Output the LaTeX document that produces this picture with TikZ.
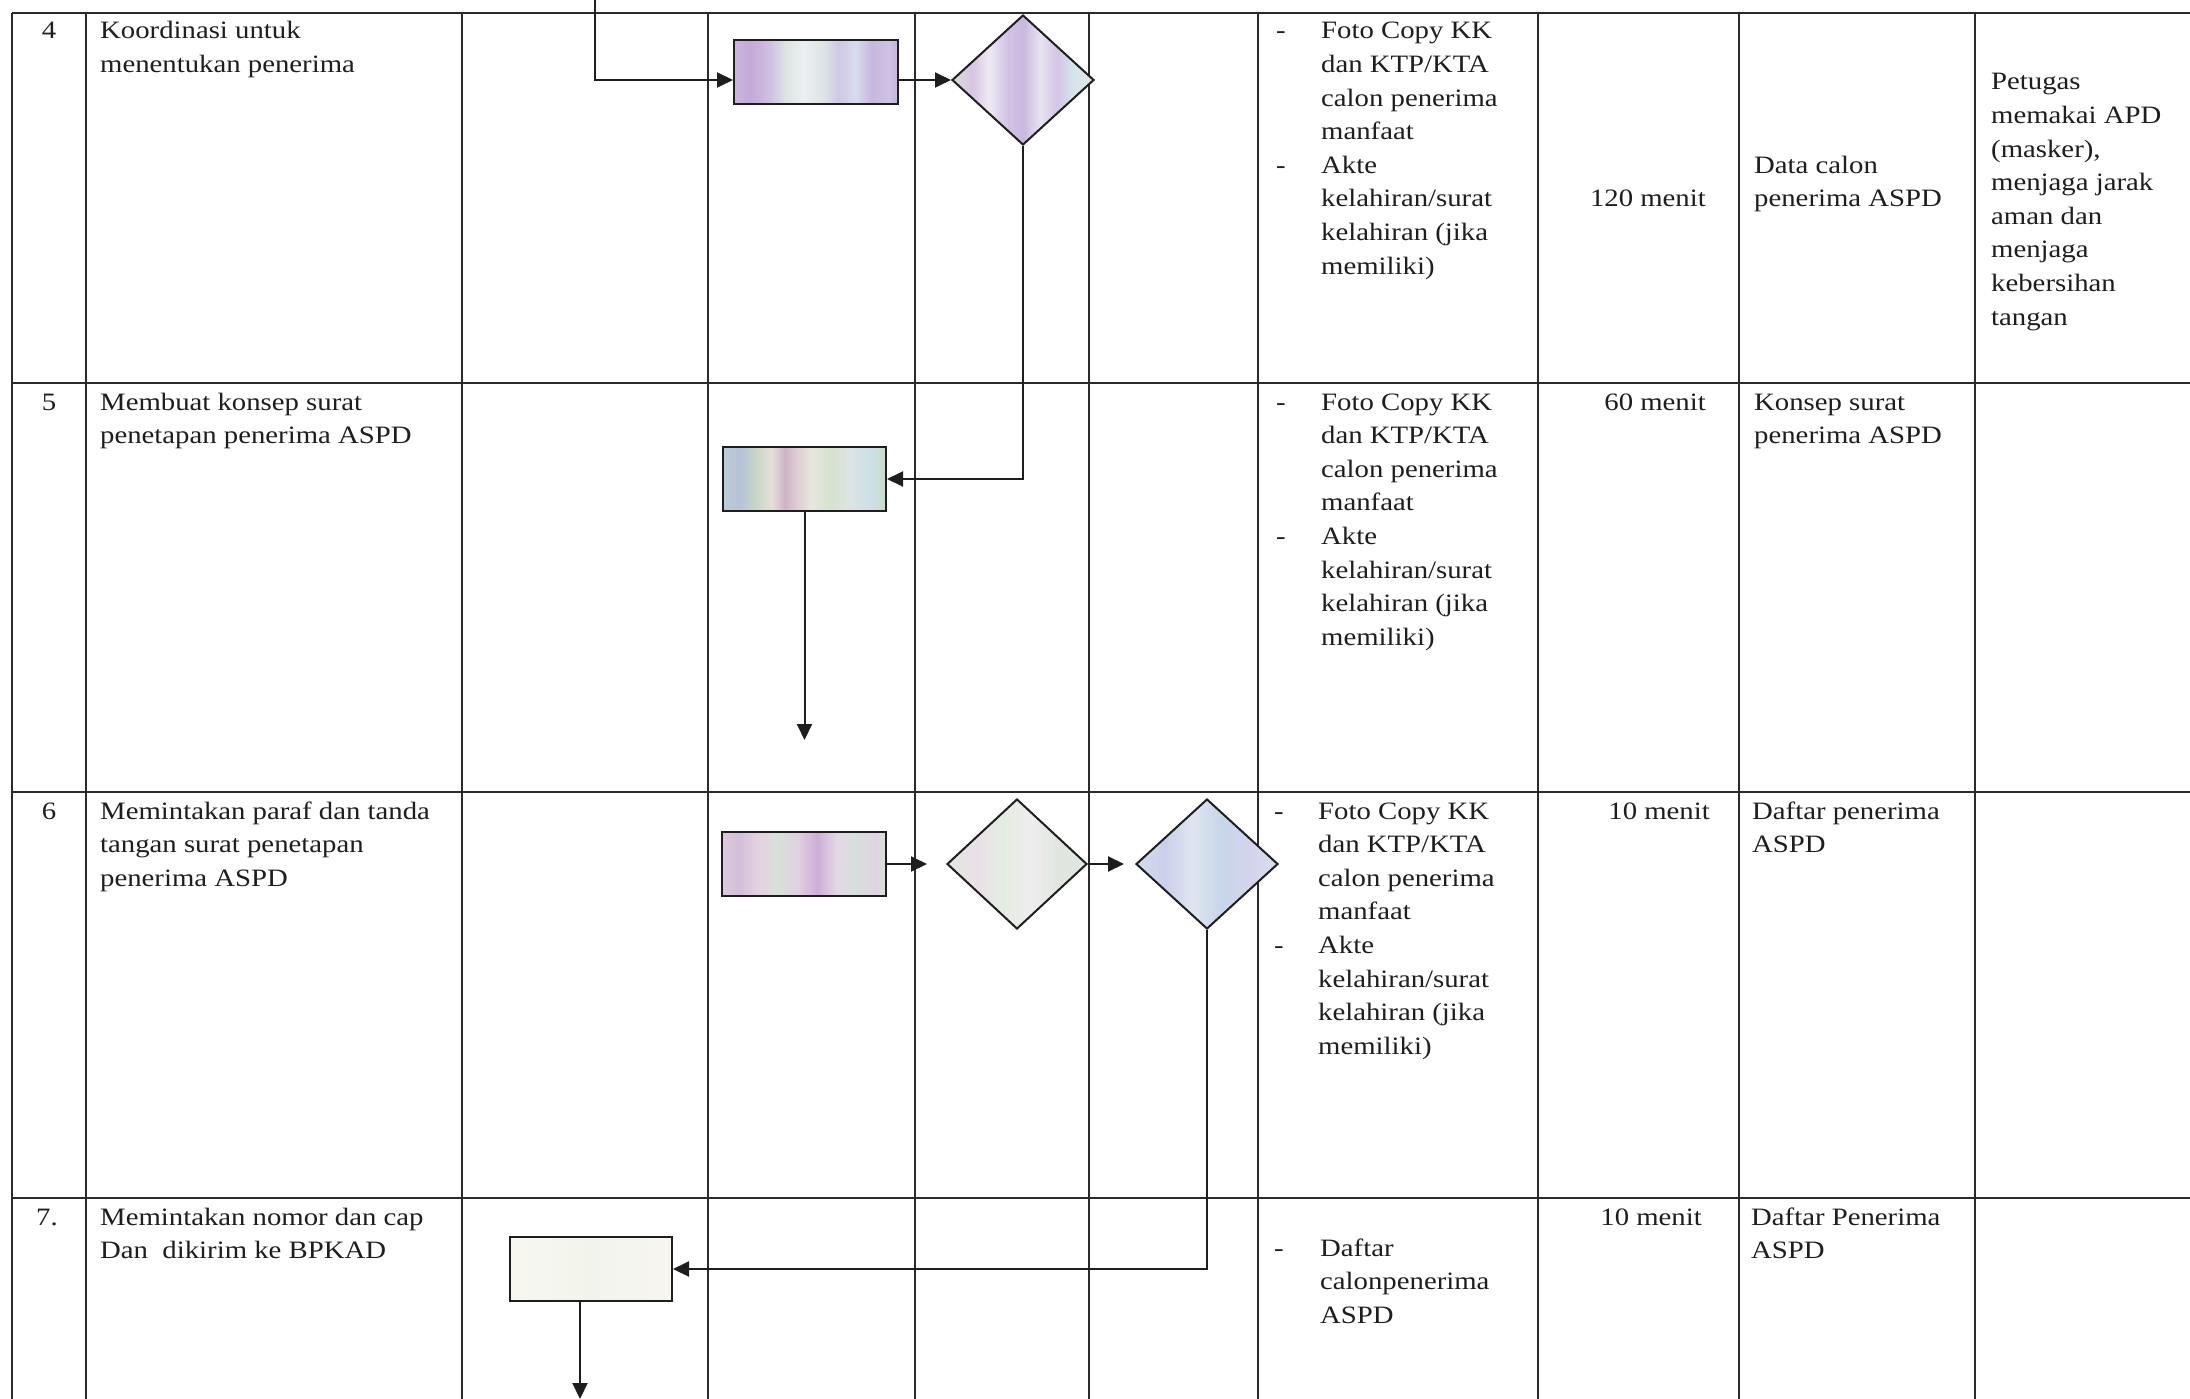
\documentclass[tikz,border=0pt]{standalone}
\usepackage{fontspec}
\setmainfont{Liberation Serif}[FakeStretch=1.15]
\usetikzlibrary{shapes.geometric,arrows.meta}

\definecolor{ink}{HTML}{1E1E1E}
\definecolor{gridc}{HTML}{2A2A2A}

\pgfdeclarehorizontalshading{shRa}{100bp}{rgb(0bp)=(.788,.714,.871); rgb(25bp)=(.788,.714,.871); rgb(30bp)=(.769,.663,.851); rgb(36bp)=(.816,.753,.886); rgb(41bp)=(.863,.902,.894); rgb(46bp)=(.929,.937,.949); rgb(52bp)=(.867,.898,.902); rgb(57bp)=(.812,.788,.902); rgb(62bp)=(.847,.863,.933); rgb(67bp)=(.780,.714,.875); rgb(72bp)=(.812,.765,.894); rgb(75bp)=(.773,.698,.863); rgb(100bp)=(.773,.698,.863)}
\pgfdeclarehorizontalshading{shDa}{100bp}{rgb(0bp)=(.839,.878,.839); rgb(25bp)=(.839,.878,.839); rgb(32bp)=(.847,.765,.894); rgb(38bp)=(.929,.918,.949); rgb(44bp)=(.827,.773,.906); rgb(50bp)=(.788,.714,.875); rgb(56bp)=(.902,.894,.941); rgb(62bp)=(.831,.769,.902); rgb(68bp)=(.839,.898,.925); rgb(75bp)=(.867,.902,.886); rgb(100bp)=(.867,.902,.886)}
\pgfdeclarehorizontalshading{shRb}{100bp}{rgb(0bp)=(.725,.804,.827); rgb(25bp)=(.725,.804,.827); rgb(30bp)=(.714,.761,.863); rgb(35bp)=(.780,.839,.776); rgb(40bp)=(.902,.875,.851); rgb(44bp)=(.812,.702,.776); rgb(47bp)=(.867,.788,.824); rgb(52bp)=(.910,.902,.871); rgb(58bp)=(.839,.890,.812); rgb(64bp)=(.863,.894,.894); rgb(70bp)=(.804,.878,.910); rgb(75bp)=(.776,.863,.788); rgb(100bp)=(.776,.863,.788)}
\pgfdeclarehorizontalshading{shRc}{100bp}{rgb(0bp)=(.863,.792,.859); rgb(25bp)=(.863,.792,.859); rgb(30bp)=(.831,.745,.859); rgb(36bp)=(.894,.824,.886); rgb(42bp)=(.839,.886,.851); rgb(48bp)=(.886,.816,.886); rgb(54bp)=(.804,.682,.847); rgb(60bp)=(.894,.847,.902); rgb(66bp)=(.835,.875,.863); rgb(72bp)=(.878,.831,.886); rgb(75bp)=(.847,.886,.847); rgb(100bp)=(.847,.886,.847)}
\pgfdeclarehorizontalshading{shDb}{100bp}{rgb(0bp)=(.878,.910,.871); rgb(25bp)=(.878,.910,.871); rgb(35bp)=(.918,.878,.910); rgb(45bp)=(.894,.925,.886); rgb(55bp)=(.937,.929,.937); rgb(65bp)=(.878,.902,.871); rgb(75bp)=(.867,.902,.878); rgb(100bp)=(.867,.902,.878)}
\pgfdeclarehorizontalshading{shDc}{100bp}{rgb(0bp)=(.839,.863,.933); rgb(25bp)=(.839,.863,.933); rgb(35bp)=(.792,.816,.918); rgb(45bp)=(.878,.902,.941); rgb(55bp)=(.784,.839,.918); rgb(65bp)=(.831,.831,.925); rgb(75bp)=(.847,.871,.941); rgb(100bp)=(.847,.871,.941)}
\pgfdeclarehorizontalshading{shRd}{100bp}{rgb(0bp)=(.969,.969,.941); rgb(25bp)=(.969,.969,.941); rgb(50bp)=(.949,.957,.925); rgb(75bp)=(.969,.965,.941); rgb(100bp)=(.969,.965,.941)}

\newcommand\TLw[4]{\node[txt,anchor=base west] (#1) at (#2,#3) {#4};}
\newcommand\TLe[4]{\node[txt,anchor=base east] (#1) at (#2,#3) {#4};}
\newcommand\TLc[4]{\node[txt,anchor=base] (#1) at (#2,#3) {#4};}

\begin{document}
\begin{tikzpicture}[x=1pt,y=-1pt,
  gridline/.style={line width=2pt,draw=gridc},
  conn/.style={line width=2pt,draw=ink},
  arr/.style={conn,-{Triangle[length=16pt,width=15pt]}},
  box/.style={rectangle,draw=ink,line width=2pt,inner sep=0pt},
  dia/.style={diamond,draw=ink,line width=2pt,inner sep=0pt,minimum height=130pt},
  txt/.style={inner sep=0pt,font=\fontsize{25}{33.6}\selectfont,text=ink}]

\useasboundingbox (0,0) rectangle (2190,1399);
\fill[white] (0,0) rectangle (2190,1399);

% table grid
\foreach \yy in {13,383,792,1198} \draw[gridline] (12,\yy) -- (2190,\yy);
\foreach \xx in {12,86,462,708,915,1089,1258,1538,1739,1975} \draw[gridline] (\xx,13) -- (\xx,1399);

% flow shapes
\node[box,minimum width=164pt,minimum height=64pt,shading=shRa] (R1) at (816,72) {};
\node[dia,minimum width=142pt,shading=shDa] (D1) at (1023,80) {};
\node[box,minimum width=163pt,minimum height=64pt,shading=shRb] (R2) at (804.5,479) {};
\node[box,minimum width=164pt,minimum height=64pt,shading=shRc] (R3) at (804,864) {};
\node[dia,minimum width=140pt,shading=shDb] (D2) at (1017,864) {};
\node[dia,minimum width=142pt,shading=shDc] (D3) at (1207,864) {};
\node[box,minimum width=162pt,minimum height=64pt,shading=shRd] (R4) at (591,1269) {};

% connectors
\coordinate (s1) at (595,0);
\coordinate (e5) at (804.5,740);
\coordinate (e7) at (580,1399);
\draw[arr] (s1) |- (R1.west |- D1.west);
\draw[arr] (R1.east |- D1.west) -- (D1.west);
\draw[arr] (D1.south) |- (R2.east);
\draw[arr] (R2.south) -- (e5);
\draw[arr,shorten >=19pt] (R3.east) -- (D2.west);
\draw[arr,shorten >=11pt] (D2.east) -- (D3.west);
\draw[arr] (D3.south) |- (R4.east);
\draw[arr] (R4.south -| e7) -- (e7);

% ---------- row 4
\TLc{n4}{49}{39}{4}
\TLw{a4a}{100}{39}{Koordinasi untuk}
\TLw{a4b}{100}{72.6}{menentukan penerima}
\TLw{d4a}{1276}{39}{-}
\TLw{d4b}{1276}{173.4}{-}
\TLw{k4a}{1321}{39}{Foto Copy KK}
\TLw{k4b}{1321}{72.6}{dan KTP/KTA}
\TLw{k4c}{1321}{106.2}{calon penerima}
\TLw{k4d}{1321}{139.8}{manfaat}
\TLw{k4e}{1321}{173.4}{Akte}
\TLw{k4f}{1321}{207}{kelahiran/surat}
\TLw{k4g}{1321}{240.6}{kelahiran (jika}
\TLw{k4h}{1321}{274.2}{memiliki)}
\TLe{w4}{1706}{207}{120 menit}
\TLw{o4a}{1754}{173.4}{Data calon}
\TLw{o4b}{1754}{207}{penerima ASPD}
\TLw{p4a}{1991}{90}{Petugas}
\TLw{p4b}{1991}{123.6}{memakai APD}
\TLw{p4c}{1991}{157.2}{(masker),}
\TLw{p4d}{1991}{190.8}{menjaga jarak}
\TLw{p4e}{1991}{224.4}{aman dan}
\TLw{p4f}{1991}{258}{menjaga}
\TLw{p4g}{1991}{291.6}{kebersihan}
\TLw{p4h}{1991}{325.2}{tangan}

% ---------- row 5
\TLc{n5}{49}{410}{5}
\TLw{a5a}{100}{410}{Membuat konsep surat}
\TLw{a5b}{100}{443.6}{penetapan penerima ASPD}
\TLw{d5a}{1276}{410}{-}
\TLw{d5b}{1276}{544.4}{-}
\TLw{k5a}{1321}{410}{Foto Copy KK}
\TLw{k5b}{1321}{443.6}{dan KTP/KTA}
\TLw{k5c}{1321}{477.2}{calon penerima}
\TLw{k5d}{1321}{510.8}{manfaat}
\TLw{k5e}{1321}{544.4}{Akte}
\TLw{k5f}{1321}{578}{kelahiran/surat}
\TLw{k5g}{1321}{611.6}{kelahiran (jika}
\TLw{k5h}{1321}{645.2}{memiliki)}
\TLe{w5}{1706}{410}{60 menit}
\TLw{o5a}{1754}{410}{Konsep surat}
\TLw{o5b}{1754}{443.6}{penerima ASPD}

% ---------- row 6
\TLc{n6}{49}{819}{6}
\TLw{a6a}{100}{819}{Memintakan paraf dan tanda}
\TLw{a6b}{100}{852.6}{tangan surat penetapan}
\TLw{a6c}{100}{886.2}{penerima ASPD}
\TLw{d6a}{1274}{819}{-}
\TLw{d6b}{1274}{953.4}{-}
\TLw{k6a}{1318}{819}{Foto Copy KK}
\TLw{k6b}{1318}{852.6}{dan KTP/KTA}
\TLw{k6c}{1318}{886.2}{calon penerima}
\TLw{k6d}{1318}{919.8}{manfaat}
\TLw{k6e}{1318}{953.4}{Akte}
\TLw{k6f}{1318}{987}{kelahiran/surat}
\TLw{k6g}{1318}{1020.6}{kelahiran (jika}
\TLw{k6h}{1318}{1054.2}{memiliki)}
\TLe{w6}{1710}{819}{10 menit}
\TLw{o6a}{1752}{819}{Daftar penerima}
\TLw{o6b}{1752}{852.6}{ASPD}

% ---------- row 7
\TLc{n7}{47}{1225}{7.}
\TLw{a7a}{100}{1225}{Memintakan nomor dan cap}
\TLw{a7b}{100}{1258.6}{Dan\ \ dikirim ke BPKAD}
\TLw{d7a}{1274}{1256}{-}
\TLw{k7a}{1320}{1256}{Daftar}
\TLw{k7b}{1320}{1289.6}{calonpenerima}
\TLw{k7c}{1320}{1323.2}{ASPD}
\TLe{w7}{1702}{1225}{10 menit}
\TLw{o7a}{1751}{1225}{Daftar Penerima}
\TLw{o7b}{1751}{1258.6}{ASPD}
\end{tikzpicture}
\end{document}
